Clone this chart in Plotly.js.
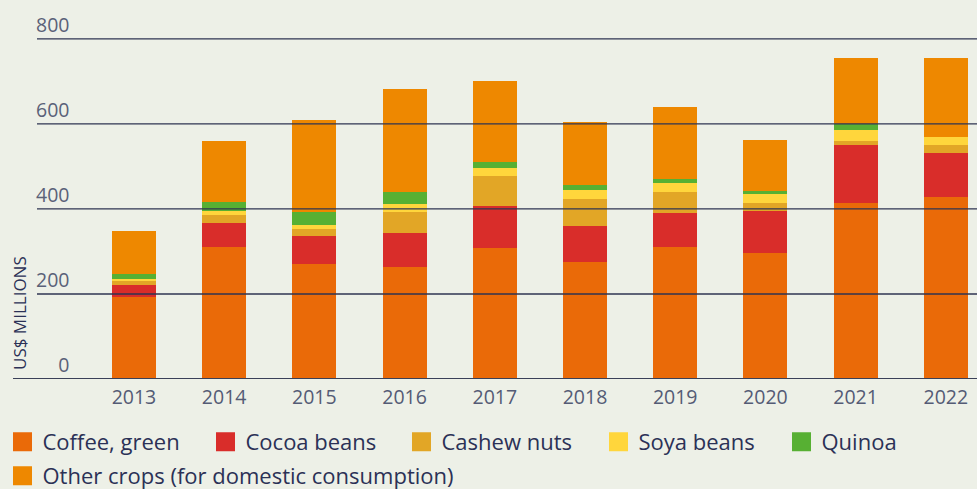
<!DOCTYPE html>
<html>
<head>
<meta charset="utf-8">
<script src="https://cdn.plot.ly/plotly-3.0.1.min.js"></script>
<style>
  html, body { margin: 0; padding: 0; background: #EDF0E7; }
  #chart { width: 977px; height: 489px; }
</style>
</head>
<body>
<div id="chart"></div>
<script>
// ---- data (US$ millions) ----
const years  = ['2013','2014','2015','2016','2017','2018','2019','2020','2021','2022'];
const coffee = [194, 311, 271, 264, 308, 275, 311, 297, 414, 428];
const cocoa  = [27, 56, 66, 80, 99, 85, 80, 98, 137, 104];
const cashew = [10, 19, 16, 49, 71, 64, 49, 19, 9, 19];
const soya   = [5, 10, 9, 19, 19, 21, 21, 21, 26, 19];
const quinoa = [12, 21, 31, 28, 14, 12, 10, 7, 14, 0];
const other  = [99, 143, 216, 242, 190, 148, 169, 120, 155, 184];

const seriesNames = ['Coffee, green','Cocoa beans','Cashew nuts','Soya beans','Quinoa','Other crops (for domestic consumption)'];
const yTickVals = [0, 200, 400, 600, 800];
const yTickText = ['\u2007\u20070', '200', '400', '600', '800'];

const colors = ['#EA6A08','#D92D2A','#E2A626','#FFD63C','#57B033','#EE8800'];
const legendWidths = [158, 151, 152, 138, 100, 600];
const values = [coffee, cocoa, cashew, soya, quinoa, other];

const traces = values.map((v, i) => ({
  type: 'bar',
  name: seriesNames[i],
  x: years,
  y: v,
  marker: { color: colors[i], line: { width: 0 } },
  legend: i < 5 ? 'legend' : 'legend2',
  legendwidth: legendWidths[i],
  hoverinfo: 'skip'
}));

const gridColor = '#2E3452';
const shapes = yTickVals.filter(v => v > 0).map(v => ({
  type: 'line', xref: 'paper', yref: 'y',
  x0: 0, x1: 1, y0: v, y1: v,
  line: { color: gridColor, width: 1.3 }, layer: 'above'
}));
shapes.push({
  type: 'line', xref: 'paper', yref: 'y',
  x0: -24/940, x1: 1, y0: 0, y1: 0,
  line: { color: '#3A4058', width: 1.8 }, layer: 'above'
});

// plot area: top 30, bottom 379 -> 349 px tall
const py = Y => (379 - Y) / 349;

const layout = {
  width: 977, height: 489,
  paper_bgcolor: '#EDF0E7',
  plot_bgcolor: '#EDF0E7',
  margin: { l: 37, r: 0, t: 30, b: 110, autoexpand: false },
  barmode: 'stack',
  bargap: 0.512,
  font: { family: '"Open Sans", sans-serif', color: '#2B3156' },
  xaxis: {
    type: 'category',
    range: [-1.075, 9.346],
    showgrid: false, zeroline: false, showline: false,
    ticks: '',
    tickfont: { size: 19.5, color: '#545B75' },
    ticklabelstandoff: 4,
    fixedrange: true
  },
  yaxis: {
    range: [0, 821],
    showgrid: false, zeroline: false, showline: false,
    tickvals: yTickVals,
    ticktext: yTickText,
    ticks: '',
    ticklabelposition: 'inside top',
    ticklabeloverflow: 'allow',
    ticklabelstandoff: -4,
    tickfont: { size: 19.5, color: '#5A6178' },
    fixedrange: true
  },
  shapes: shapes,
  annotations: [{
    text: 'US$ MILLIONS',
    xref: 'paper', yref: 'y',
    x: -18/940, y: 0,
    xanchor: 'center', yanchor: 'bottom',
    yshift: 7,
    textangle: -90,
    showarrow: false,
    font: { size: 17, color: '#2B3156' }
  }],
  legend: {
    orientation: 'h',
    x: -34.5/940, xanchor: 'left',
    y: py(442), yanchor: 'middle',
    bgcolor: 'rgba(0,0,0,0)',
    font: { size: 22, color: '#2B3156' },
    traceorder: 'normal'
  },
  legend2: {
    orientation: 'h',
    x: -34.5/940, xanchor: 'left',
    y: py(476), yanchor: 'middle',
    bgcolor: 'rgba(0,0,0,0)',
    font: { size: 22, color: '#2B3156' }
  },
  showlegend: true
};

Plotly.newPlot('chart', traces, layout, { displayModeBar: false, staticPlot: true }).then(() => {
  document.querySelectorAll('.legendpoints path').forEach(p => {
    p.setAttribute('d', 'M9.5,9.5H-9.5V-9.5H9.5Z');
  });
});
</script>
</body>
</html>
